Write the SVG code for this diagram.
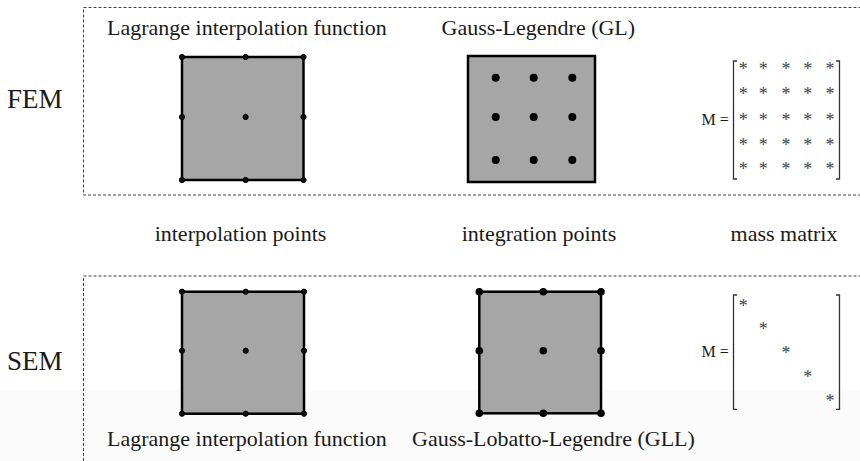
<svg xmlns="http://www.w3.org/2000/svg" width="860" height="461" viewBox="0 0 860 461">
  <style>
    .lbl { font-family: "Liberation Serif", "Times New Roman", serif; font-size: 22px; fill: #1a1a1a; }
    .big { font-family: "Liberation Serif", "Times New Roman", serif; font-size: 27px; fill: #1a1a1a; }
    .eq { font-family: "Liberation Serif", "Times New Roman", serif; font-size: 16px; fill: #1a1a1a; }
    .st { font-family: "Liberation Serif", "Times New Roman", serif; font-size: 18px; fill: #444; text-anchor: middle; }
    .frame { fill: none; stroke: #444; stroke-width: 1; stroke-dasharray: 3 2; }
    .elem { fill: #a6a6a6; stroke: #000; stroke-width: 2.5; }
    .br { fill: none; stroke: #333; stroke-width: 1.3; }
    .node { fill: #111; stroke: #000; stroke-width: 1; }
    .qp { fill: #000; }
  </style>

  <rect width="860" height="461" fill="#fff"/>
  <rect x="0" y="390" width="860" height="71" fill="#fbfbfb"/>

  <!-- section frames -->
  <rect class="frame" x="83.5" y="7.5" width="790" height="187.5"/>
  <rect class="frame" x="83.5" y="276" width="790" height="200"/>

  <!-- row labels -->
  <text class="big" x="7" y="108">FEM</text>
  <text class="big" x="7" y="370">SEM</text>

  <!-- FEM: interpolation element -->
  <g id="fem-interp">
    <text class="lbl" x="107" y="35">Lagrange interpolation function</text>
    <rect class="elem" x="182" y="57" width="121.5" height="123"/>
    <circle class="node" cx="182" cy="57" r="2.6"/>
    <circle class="node" cx="245.6" cy="57" r="2.6"/>
    <circle class="node" cx="303.5" cy="57" r="2.6"/>
    <circle class="node" cx="182" cy="117" r="2.6"/>
    <circle class="node" cx="245.6" cy="117" r="2.6"/>
    <circle class="node" cx="303.5" cy="117" r="2.6"/>
    <circle class="node" cx="182" cy="180" r="2.6"/>
    <circle class="node" cx="245.6" cy="180" r="2.6"/>
    <circle class="node" cx="303.5" cy="180" r="2.6"/>
  </g>

  <!-- FEM: Gauss-Legendre quadrature -->
  <g id="fem-gl">
    <text class="lbl" x="441.5" y="35">Gauss-Legendre (GL)</text>
    <rect class="elem" x="468" y="56" width="127" height="126"/>
    <circle class="qp" cx="495.7" cy="77.7" r="4"/>
    <circle class="qp" cx="533.7" cy="77.7" r="4"/>
    <circle class="qp" cx="572.3" cy="77.7" r="4"/>
    <circle class="qp" cx="495.7" cy="117" r="4"/>
    <circle class="qp" cx="533.7" cy="117" r="4"/>
    <circle class="qp" cx="572.3" cy="117" r="4"/>
    <circle class="qp" cx="495.7" cy="160" r="4"/>
    <circle class="qp" cx="533.7" cy="160" r="4"/>
    <circle class="qp" cx="572.3" cy="160" r="4"/>
  </g>

  <!-- FEM: full mass matrix -->
  <g id="fem-mass">
    <text class="eq" x="701.5" y="125">M =</text>
    <path class="br" d="M737 61 H733.5 V179 H737"/>
    <path class="br" d="M836 61 H839.5 V179 H836"/>
    <g>
      <text class="st" x="743.3" y="75">*</text><text class="st" x="763.3" y="75">*</text><text class="st" x="786" y="75">*</text><text class="st" x="807.7" y="75">*</text><text class="st" x="830" y="75">*</text>
      <text class="st" x="743.3" y="100">*</text><text class="st" x="763.3" y="100">*</text><text class="st" x="786" y="100">*</text><text class="st" x="807.7" y="100">*</text><text class="st" x="830" y="100">*</text>
      <text class="st" x="743.3" y="126">*</text><text class="st" x="763.3" y="126">*</text><text class="st" x="786" y="126">*</text><text class="st" x="807.7" y="126">*</text><text class="st" x="830" y="126">*</text>
      <text class="st" x="743.3" y="150.7">*</text><text class="st" x="763.3" y="150.7">*</text><text class="st" x="786" y="150.7">*</text><text class="st" x="807.7" y="150.7">*</text><text class="st" x="830" y="150.7">*</text>
      <text class="st" x="743.3" y="175">*</text><text class="st" x="763.3" y="175">*</text><text class="st" x="786" y="175">*</text><text class="st" x="807.7" y="175">*</text><text class="st" x="830" y="175">*</text>
    </g>
  </g>

  <!-- column captions -->
  <g id="captions">
    <text class="lbl" x="240.5" y="241" text-anchor="middle">interpolation points</text>
    <text class="lbl" x="539" y="241" text-anchor="middle">integration points</text>
    <text class="lbl" x="784" y="241" text-anchor="middle">mass matrix</text>
  </g>

  <!-- SEM: interpolation element -->
  <g id="sem-interp">
    <rect class="elem" x="182" y="291.7" width="122" height="122"/>
    <circle class="node" cx="182" cy="291.7" r="2.6"/>
    <circle class="node" cx="245.7" cy="291.7" r="2.6"/>
    <circle class="node" cx="304" cy="291.7" r="2.6"/>
    <circle class="node" cx="182" cy="350.7" r="2.6"/>
    <circle class="node" cx="245.7" cy="350.7" r="2.6"/>
    <circle class="node" cx="304" cy="350.7" r="2.6"/>
    <circle class="node" cx="182" cy="413.7" r="2.6"/>
    <circle class="node" cx="245.7" cy="413.7" r="2.6"/>
    <circle class="node" cx="304" cy="413.7" r="2.6"/>
    <text class="lbl" x="107" y="446">Lagrange interpolation function</text>
  </g>

  <!-- SEM: Gauss-Lobatto-Legendre quadrature -->
  <g id="sem-gll">
    <rect class="elem" x="479.3" y="291.7" width="121.7" height="121.6"/>
    <circle class="qp" cx="479.3" cy="291.7" r="3.8"/>
    <circle class="qp" cx="543.3" cy="291.7" r="3.8"/>
    <circle class="qp" cx="601" cy="291.7" r="3.8"/>
    <circle class="qp" cx="479.3" cy="350.7" r="3.8"/>
    <circle class="qp" cx="543.3" cy="350.7" r="3.8"/>
    <circle class="qp" cx="601" cy="350.7" r="3.8"/>
    <circle class="qp" cx="479.3" cy="413.3" r="3.8"/>
    <circle class="qp" cx="543.3" cy="413.3" r="3.8"/>
    <circle class="qp" cx="601" cy="413.3" r="3.8"/>
    <text class="lbl" x="412" y="446">Gauss-Lobatto-Legendre (GLL)</text>
  </g>

  <!-- SEM: diagonal mass matrix -->
  <g id="sem-mass">
    <text class="eq" x="701.5" y="357">M =</text>
    <path class="br" d="M737 295 H733.5 V409.3 H737"/>
    <path class="br" d="M836 295 H839.5 V409.3 H836"/>
    <text class="st" x="743.3" y="311.7">*</text>
    <text class="st" x="763.3" y="335">*</text>
    <text class="st" x="786" y="359.3">*</text>
    <text class="st" x="807.7" y="383.3">*</text>
    <text class="st" x="830" y="406.7">*</text>
  </g>
</svg>
